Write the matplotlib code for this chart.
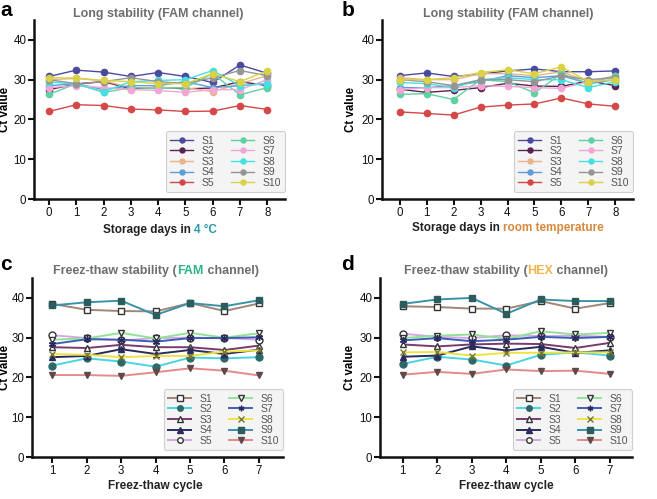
import matplotlib
matplotlib.use("Agg")
import matplotlib.pyplot as plt

plt.rcParams['font.family'] = ['Liberation Sans', 'DejaVu Sans']

# ---------------- data ----------------
names = ["S1", "S2", "S3", "S4", "S5", "S6", "S7", "S8", "S9", "S10"]
days = [0, 1, 2, 3, 4, 5, 6, 7, 8]
cycles = [1, 2, 3, 4, 5, 6, 7]

# panel a: Long stability, 4 °C
a_S1 = [30.8, 32.4, 31.9, 30.8, 31.8, 30.8, 29.3, 33.7, 31.6]
a_S2 = [27.5, 28.9, 29.5, 27.7, 28.1, 27.7, 27.9, 29.5, 28.5]
a_S3 = [30.0, 30.3, 29.7, 28.0, 28.0, 28.0, 27.0, 29.0, 31.0]
a_S4 = [28.5, 29.0, 27.5, 28.5, 28.5, 29.5, 28.0, 28.5, 29.0]
a_S5 = [22.0, 23.7, 23.5, 22.6, 22.4, 22.0, 22.1, 23.5, 22.5]
a_S6 = [26.3, 29.0, 26.8, 28.0, 27.8, 28.0, 31.5, 26.2, 28.0]
a_S7 = [28.0, 28.5, 28.0, 27.5, 27.3, 26.8, 27.5, 27.5, 30.0]
a_S8 = [29.5, 28.8, 27.0, 29.5, 29.8, 30.0, 32.3, 28.5, 29.0]
a_S9 = [30.0, 29.0, 29.5, 30.5, 29.5, 29.0, 30.5, 32.3, 31.0]
a_S10 = [30.5, 30.4, 29.8, 29.5, 29.0, 29.0, 31.5, 29.5, 32.2]

# panel b: Long stability, room temperature
b_S1 = [31.0, 31.7, 30.8, 31.4, 32.2, 32.7, 32.0, 32.0, 32.2]
b_S2 = [27.6, 26.8, 27.3, 28.0, 29.1, 28.4, 28.3, 29.7, 28.5]
b_S3 = [30.5, 30.0, 30.0, 31.5, 31.5, 31.0, 32.0, 29.5, 31.0]
b_S4 = [28.0, 28.0, 28.5, 29.5, 31.0, 30.5, 31.0, 29.0, 30.0]
b_S5 = [21.9, 21.5, 21.1, 23.1, 23.6, 23.9, 25.4, 23.9, 23.3]
b_S6 = [26.3, 26.5, 25.0, 30.0, 29.5, 26.7, 31.5, 29.0, 31.0]
b_S7 = [27.5, 28.0, 28.0, 28.5, 28.3, 28.0, 27.8, 29.5, 30.0]
b_S8 = [29.3, 29.0, 28.0, 30.0, 30.5, 30.0, 30.0, 28.0, 29.5]
b_S9 = [30.0, 29.5, 28.5, 30.0, 30.0, 29.5, 31.0, 30.0, 30.5]
b_S10 = [30.0, 30.0, 30.5, 31.8, 32.5, 31.5, 33.2, 29.5, 30.0]

# panel c: Freez-thaw stability, FAM
c_S1 = [38.5, 37.0, 36.7, 36.6, 38.7, 36.7, 38.6]
c_S2 = [23.0, 24.8, 24.0, 22.7, 25.0, 24.8, 25.1]
c_S3 = [27.6, 27.4, 28.2, 27.6, 27.6, 26.9, 28.0]
c_S4 = [25.1, 25.4, 27.1, 25.9, 26.9, 25.9, 27.0]
c_S5 = [30.6, 29.9, 29.3, 29.9, 30.0, 29.9, 29.5]
c_S6 = [29.5, 29.8, 31.2, 29.8, 31.2, 30.0, 31.1]
c_S7 = [28.4, 29.6, 29.5, 29.0, 29.9, 29.9, 30.1]
c_S8 = [25.9, 25.7, 25.1, 25.4, 25.4, 26.5, 26.8]
c_S9 = [38.1, 38.9, 39.3, 35.7, 38.7, 37.9, 39.4]
c_S10 = [20.6, 20.6, 20.4, 21.3, 22.3, 21.7, 20.5]

# panel d: Freez-thaw stability, HEX
d_S1 = [37.9, 37.7, 37.3, 37.3, 39.2, 37.3, 38.7]
d_S2 = [23.4, 25.2, 24.5, 23.0, 25.7, 26.3, 25.5]
d_S3 = [28.3, 27.8, 28.3, 28.5, 28.4, 27.4, 28.7]
d_S4 = [25.2, 25.5, 27.8, 26.8, 27.7, 26.2, 26.8]
d_S5 = [31.0, 30.2, 29.9, 30.6, 30.4, 30.5, 30.2]
d_S6 = [29.9, 30.5, 30.8, 29.7, 31.6, 30.8, 31.2]
d_S7 = [29.3, 29.9, 29.1, 29.5, 30.2, 29.9, 30.2]
d_S8 = [26.3, 26.4, 25.5, 26.2, 26.2, 26.3, 26.3]
d_S9 = [38.5, 39.6, 40.0, 36.0, 39.6, 39.2, 39.2]
d_S10 = [20.7, 21.4, 20.9, 22.0, 21.6, 21.7, 20.9]

a_series = [a_S1, a_S2, a_S3, a_S4, a_S5, a_S6, a_S7, a_S8, a_S9, a_S10]
b_series = [b_S1, b_S2, b_S3, b_S4, b_S5, b_S6, b_S7, b_S8, b_S9, b_S10]
c_series = [c_S1, c_S2, c_S3, c_S4, c_S5, c_S6, c_S7, c_S8, c_S9, c_S10]
d_series = [d_S1, d_S2, d_S3, d_S4, d_S5, d_S6, d_S7, d_S8, d_S9, d_S10]

# ---------------- styles ----------------
ab_colors = ["#4b4b9e", "#5a2452", "#e9b48c", "#5f9edb", "#d44848",
             "#5fd0a2", "#f2a6d6", "#44e0e2", "#959595", "#d8d244"]

cd_line = ["#a08676", "#48d4e2", "#7a3a6e", "#2a2a5e", "#d6a8e6",
           "#92e296", "#3c5cb6", "#ece444", "#3a92aa", "#e48a8a"]
cd_marker = ["s", "o", "^", "^", "o", "v", (6, 2, 0), "x", "s", "v"]
cd_face = ["white", "#2d6868", "white", "#2a2a5e", "white", "white",
           "#2a2a5e", "#7a7a30", "#2c5c5e", "#5e4a4a"]
cd_edge = ["#333333", "#2d6868", "#333333", "#2a2a5e", "#333333", "#333333",
           "#2a2a5e", "#7a7a30", "#2c5c5e", "#5e4a4a"]

W, H = 657, 499
fig = plt.figure(figsize=(W / 100, H / 100), dpi=100)


def ax_at(x0, x1, ytop, ybot):
    return fig.add_axes([x0 / W, 1 - ybot / H, (x1 - x0) / W, (ybot - ytop) / H])


def style_ax(ax, xticks):
    for s in ["top", "right"]:
        ax.spines[s].set_visible(False)
    for s in ["left", "bottom"]:
        ax.spines[s].set_linewidth(1.8)
        ax.spines[s].set_color("#111111")
    ax.set_ylim(0, 45)
    ax.set_yticks([0, 10, 20, 30, 40])
    ax.set_xticks(xticks)
    ax.tick_params(direction="out", length=4, width=1.5, labelsize=8.3,
                   colors="#111111", pad=1.5)


def leg(ax):
    lg = ax.legend(ncol=2, loc="lower right", bbox_to_anchor=(1.0, 0.04),
                   fontsize=7.5, frameon=True, fancybox=True, markerscale=0.8,
                   handlelength=2.2, handletextpad=0.8, columnspacing=1.6,
                   labelspacing=0.05, borderpad=0.4, borderaxespad=0.0)
    lg.get_frame().set_facecolor("#f4f4f4")
    lg.get_frame().set_edgecolor("#cfcfcf")
    lg.get_frame().set_linewidth(0.8)
    lg.get_frame().set_alpha(1)
    for t in lg.get_texts():
        t.set_color("#555555")


def ylab(ax, xpix, x0, x1):
    # xpix: right edge of the rotated label, in figure pixels
    ax.set_ylabel("Ct value", fontsize=8.3, fontweight="bold")
    ax.yaxis.set_label_coords((xpix - x0) / (x1 - x0), 0.5)


def multicolor(x, y, parts, size=8.5):
    # parts: list of (text, color); centred at figure pixel (x, y from top)
    texts = []
    for s, c in parts:
        texts.append(fig.text(0, 0, s, color=c, fontsize=size, fontweight="bold",
                              ha="left", va="center"))
    fig.canvas.draw()
    r = fig.canvas.get_renderer()
    widths = [t.get_window_extent(r).width for t in texts]
    total = sum(widths)
    cur = x - total / 2
    for t, w in zip(texts, widths):
        t.set_position((cur / W, 1 - y / H))
        cur += w


# panel a
axa = ax_at(34, 285, 20, 199)
for nm, ys, col in zip(names, a_series, ab_colors):
    axa.plot(days, ys, color=col, lw=1.0, marker="o", ms=4.5, label=nm)
style_ax(axa, days)
axa.set_xlim(-0.55, 8.65)
leg(axa)
ylab(axa, 11.5, 34, 285)

# panel b
axb = ax_at(382, 633, 20, 199)
for nm, ys, col in zip(names, b_series, ab_colors):
    axb.plot(days, ys, color=col, lw=1.0, marker="o", ms=4.5, label=nm)
style_ax(axb, days)
axb.set_xlim(-0.65, 8.65)
leg(axb)
ylab(axb, 357, 382, 633)

# panel c
axc = ax_at(32, 283, 278, 457)
for i, (nm, ys) in enumerate(zip(names, c_series)):
    axc.plot(cycles, ys, color=cd_line[i], lw=1.4, marker=cd_marker[i], ms=5,
             mfc=cd_face[i], mec=cd_edge[i], mew=1.0, label=nm)
style_ax(axc, cycles)
axc.set_xlim(0.41, 7.7)
leg(axc)
ylab(axc, 11.5, 32, 283)

# panel d
axd = ax_at(380, 632, 278, 457)
for i, (nm, ys) in enumerate(zip(names, d_series)):
    axd.plot(cycles, ys, color=cd_line[i], lw=1.4, marker=cd_marker[i], ms=5,
             mfc=cd_face[i], mec=cd_edge[i], mew=1.0, label=nm)
style_ax(axd, cycles)
axd.set_xlim(0.34, 7.64)
leg(axd)
ylab(axd, 356, 380, 632)

# titles
gray = "#6e6e6e"
multicolor(158, 14, [("Long stability (FAM channel)", gray)], size=9)
multicolor(508, 14, [("Long stability (FAM channel)", gray)], size=9)
multicolor(156, 271, [("Freez-thaw stability (", gray), ("FAM", "#2fb38a"),
                      (" channel)", gray)], size=9)
multicolor(506, 271, [("Freez-thaw stability (", gray), ("HEX", "#f2b54a"),
                      (" channel)", gray)], size=9)

# x labels
multicolor(160, 230, [("Storage days in ", "#222222"), ("4 °C", "#2a9aa2")])
multicolor(508, 228, [("Storage days in ", "#222222"),
                      ("room temperature", "#d8893c")])
multicolor(155, 486, [("Freez-thaw cycle", "#222222")])
multicolor(506, 486, [("Freez-thaw cycle", "#222222")])

# panel letters
for lab, x, y in [("a", 0, 10), ("b", 342, 10), ("c", 0, 265), ("d", 341, 265)]:
    fig.text(x / W, 1 - y / H, lab, fontsize=15, fontweight="bold",
             ha="left", va="center")

fig.savefig("out.png", dpi=100)
